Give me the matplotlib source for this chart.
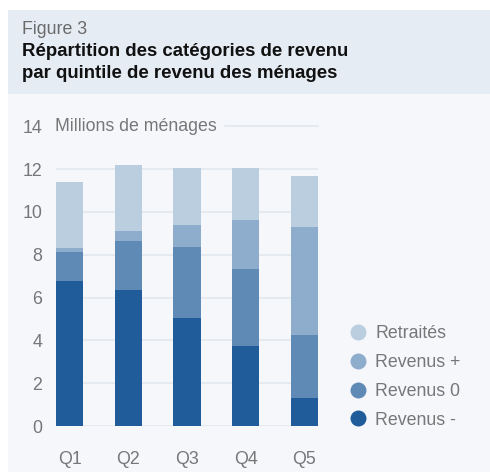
import matplotlib.pyplot as plt
import numpy as np
from matplotlib.lines import Line2D
from matplotlib.patches import Rectangle

plt.rcParams['font.family'] = ['Liberation Sans', 'DejaVu Sans']

# data (millions de ménages)
quintiles = ["Q1", "Q2", "Q3", "Q4", "Q5"]
revenus_moins = [6.78, 6.36, 5.05, 3.74, 1.31]
revenus_zero = [1.35, 2.28, 3.31, 3.60, 2.94]
revenus_plus = [0.19, 0.47, 1.03, 2.29, 5.05]
retraites = [3.08, 3.09, 2.67, 2.43, 2.38]

series = [
	("Revenus -", revenus_moins, "#1f5c99"),
	("Revenus 0", revenus_zero, "#608ab6"),
	("Revenus +", revenus_plus, "#8eadcc"),
	("Retraités", retraites, "#bacee0"),
]
yticks = [0, 2, 4, 6, 8, 10, 12, 14]

W, H = 490, 473
fig = plt.figure(figsize=(W/100, H/100), dpi=100)
fig.patch.set_facecolor("white")

# panel backgrounds (pixel coords -> fig fraction)
def px(x, y):
	return x/W, 1 - y/H

fig.add_artist(Rectangle(px(8, 472), (W-8)/W, (472-94)/H, transform=fig.transFigure,
	facecolor="#f5f7fb", edgecolor="none", zorder=0))
fig.add_artist(Rectangle(px(8, 94), (W-8)/W, (94-10)/H, transform=fig.transFigure,
	facecolor="#e6ecf4", edgecolor="none", zorder=0))

fig.text(*px(22, 29), "Figure 3", fontsize=12.8, color="#6a6a6a", va="center", ha="left")
fig.text(*px(22, 51), "Répartition des catégories de revenu", fontsize=13.4,
	fontweight="bold", color="#111111", va="center", ha="left")
fig.text(*px(22, 73), "par quintile de revenu des ménages", fontsize=13.4,
	fontweight="bold", color="#111111", va="center", ha="left")

w = 0.46
ax = fig.add_axes([56/W, (H-426)/H, 262/W, (426-126.4)/H])
ax.patch.set_alpha(0)
x = np.arange(len(quintiles))
bottom = np.zeros(len(quintiles))
for name, vals, col in series:
	ax.bar(x, vals, width=w, bottom=bottom, color=col, zorder=3, label=name)
	bottom += np.array(vals)

ax.set_xlim(-w/2, len(quintiles) - 1 + w/2)
ax.set_ylim(0, 14)
for t in yticks[:-1]:
	ax.axhline(t, color="#e2e8f0", lw=1.2, zorder=1)
ax.plot([(225-56)/262, 1], [1, 1], transform=ax.transAxes, color="#e2e8f0", lw=1.2, clip_on=False)
ax.text(-0.005, 14, "Millions de ménages", transform=ax.get_yaxis_transform(),
	fontsize=12.8, color="#777777", va="center", ha="left")

for s in ax.spines.values():
	s.set_visible(False)
ax.set_yticks(yticks)
ax.set_xticks(x)
ax.set_xticklabels(quintiles)
ax.tick_params(axis="both", length=0, labelsize=12.8, labelcolor="#777777")
ax.tick_params(axis="y", pad=10)
ax.tick_params(axis="x", pad=18)

handles = [Line2D([], [], marker="o", linestyle="none", markersize=11.5, color=c,
	markeredgecolor="none") for _, _, c in series][::-1]
labels = [n for n, _, _ in series][::-1]
fig.legend(handles, labels, loc="center left", bbox_to_anchor=(338/W, 1 - 377/H),
	frameon=False, fontsize=12.8, labelcolor="#777777", labelspacing=0.66,
	handletextpad=0.3, handlelength=1.3, borderpad=0)

fig.savefig("out.png", dpi=100, facecolor="white")
